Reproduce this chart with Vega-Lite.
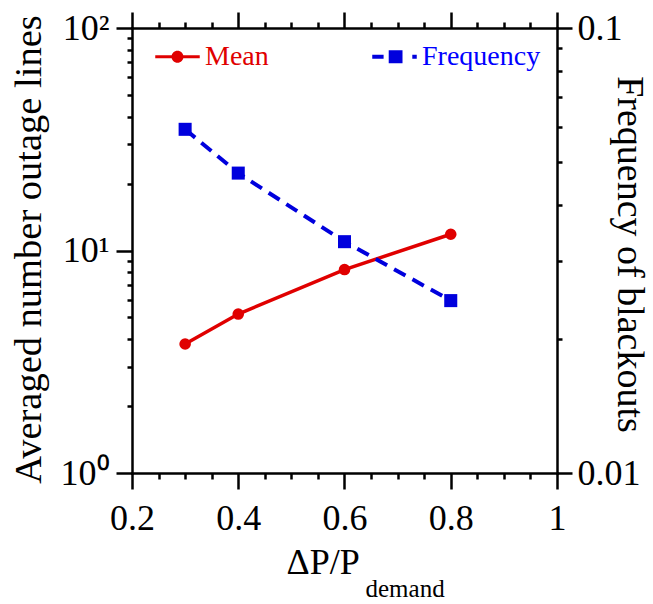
{
  "$schema": "https://vega.github.io/schema/vega-lite/v6.json",
  "width": 425,
  "height": 445,
  "autosize": "none",
  "padding": {"left": 132, "top": 28, "right": 96, "bottom": 131},
  "config": {
    "font": "Liberation Serif",
    "view": {"stroke": null},
    "axis": {
      "domainColor": "black", "tickColor": "black", "domainWidth": 2.5, "tickWidth": 2.5, "domainCap": "square",
      "labelColor": "black", "titleColor": "black", "labelFont": "Liberation Serif", "titleFont": "Liberation Serif",
      "labelFontSize": 36, "titleFontSize": 38, "titleFontWeight": "normal", "grid": false,
      "labelFlush": false, "labelOverlap": false
    },
    "legend": {"padding": 0}
  },
  "data": {"values": [
    {"x": 0.3, "series": "Mean", "value": 3.8},
    {"x": 0.4, "series": "Mean", "value": 5.18},
    {"x": 0.6, "series": "Mean", "value": 8.21},
    {"x": 0.8, "series": "Mean", "value": 11.83},
    {"x": 0.3, "series": "Frequency", "value": 0.0592},
    {"x": 0.4, "series": "Frequency", "value": 0.0472},
    {"x": 0.6, "series": "Frequency", "value": 0.0331},
    {"x": 0.8, "series": "Frequency", "value": 0.0244}
  ]},
  "resolve": {"scale": {"x": "independent", "y": "independent"}},
  "layer": [
    {
      "transform": [{"filter": "datum.series == 'Mean'"}],
      "mark": {"type": "line", "color": "#e00000", "strokeWidth": 3.5, "point": {"filled": true, "size": 135, "color": "#e00000"}},
      "encoding": {
        "x": {"field": "x", "type": "quantitative", "scale": {"domain": [0.2, 1], "nice": false, "zero": false},
          "axis": {"orient": "bottom", "values": [0.2, 0.4, 0.6, 0.8, 1], "format": ".1~f", "tickSize": 16, "labelPadding": 12,
            "labelFont": "Liberation Serif", "titleFont": "Liberation Serif", "labelFontSize": 36,
            "title": "ΔP/P", "titleFontSize": 36, "titleX": 154, "titleY": 100, "titleAlign": "left", "titleBaseline": "alphabetic", "titleAnchor": null}},
        "y": {"field": "value", "type": "quantitative", "scale": {"type": "log", "domain": [1, 100], "nice": false},
          "axis": {"orient": "left", "values": [1, 10, 100], "labelExpr": "datum.value < 5 ? '10⁰' : datum.value < 50 ? '10¹' : '10²'",
            "labelFont": "Liberation Serif", "titleFont": "Liberation Serif", "labelFontSize": 36, "titleFontSize": 38.5,
            "tickSize": 16, "labelPadding": 7, "title": "Averaged number outage lines", "titleX": -92, "titleY": 221, "titleAlign": "center", "titleBaseline": "alphabetic", "titleAngle": 270}}
      }
    },
    {
      "transform": [{"filter": "datum.series == 'Frequency'"}],
      "mark": {"type": "line", "color": "#0000dd", "strokeWidth": 4, "strokeDash": [13, 8], "point": {"filled": true, "shape": "square", "size": 170, "color": "#0000dd"}},
      "encoding": {
        "x": {"field": "x", "type": "quantitative", "scale": {"domain": [0.2, 1], "nice": false, "zero": false},
          "axis": {"orient": "top", "values": [0.2, 0.4, 0.6, 0.8, 1], "labels": false, "tickSize": 16, "title": null}},
        "y": {"field": "value", "type": "quantitative", "scale": {"type": "log", "domain": [0.01, 0.1], "nice": false},
          "axis": {"orient": "right", "values": [0.01, 0.1], "labelExpr": "datum.value < 0.05 ? '0.01' : '0.1'",
            "labelFont": "Liberation Serif", "titleFont": "Liberation Serif", "labelFontSize": 36, "titleFontSize": 38,
            "tickSize": 15, "labelPadding": 5, "title": "Frequency of blackouts", "titleX": 60, "titleY": 226, "titleAlign": "center", "titleBaseline": "alphabetic", "titleAngle": 90}}
      }
    },
    {
      "transform": [{"filter": "datum.series == 'Mean'"}],
      "mark": {"type": "point", "opacity": 0, "clip": true},
      "encoding": {
        "x": {"field": "x", "type": "quantitative", "scale": {"domain": [0.2, 1], "nice": false, "zero": false},
          "axis": {"orient": "bottom", "values": [0.25, 0.3, 0.35, 0.45, 0.5, 0.55, 0.65, 0.7, 0.75, 0.85, 0.9, 0.95], "labels": false, "domain": false, "tickSize": 6,
            "titleFont": "Liberation Serif",
            "title": "demand", "titleFontSize": 25, "titleX": 233, "titleY": 123, "titleAlign": "left", "titleBaseline": "alphabetic", "titleAnchor": null}},
        "y": {"field": "value", "type": "quantitative", "scale": {"type": "log", "domain": [1, 100], "nice": false},
          "axis": {"orient": "left", "values": [2, 3, 4, 5, 6, 7, 8, 9, 20, 30, 40, 50, 60, 70, 80, 90], "labels": false, "domain": false, "tickSize": 5, "title": null}}
      }
    },
    {
      "mark": {"type": "point", "opacity": 0, "filled": true, "clip": true},
      "encoding": {
        "x": {"field": "x", "type": "quantitative", "scale": {"domain": [0.2, 1], "nice": false, "zero": false},
          "axis": {"orient": "top", "values": [0.25, 0.3, 0.35, 0.45, 0.5, 0.55, 0.65, 0.7, 0.75, 0.85, 0.9, 0.95], "labels": false, "domain": false, "tickSize": 6, "title": null}},
        "y": {"field": "value", "type": "quantitative", "scale": {"type": "log", "domain": [0.01, 0.1], "nice": false},
          "axis": {"orient": "right", "values": [0.02, 0.03, 0.04, 0.05, 0.06, 0.07, 0.08, 0.09], "labels": false, "domain": false, "tickSize": 5, "title": null}},
        "color": {"field": "series", "type": "nominal", "scale": {"domain": ["Mean", "Frequency"], "range": ["#e00000", "#0000dd"]},
          "legend": {"orient": "none", "legendX": 23, "legendY": 6, "direction": "horizontal", "title": null, "symbolSize": 1980, "symbolStrokeWidth": 0, "symbolOpacity": 1,
            "labelFontSize": 28, "labelFont": "Liberation Serif", "labelOffset": 5, "columnPadding": 103, "padding": 0,
            "encode": {"labels": {"update": {"fill": {"signal": "datum.value === 'Mean' ? '#e00000' : '#0000ff'"}}}}}},
        "shape": {"field": "series", "type": "nominal", "scale": {"domain": ["Mean", "Frequency"], "range": [
            "M-1,-0.07H-0.26V0.07H-1Z M0.26,-0.07H1V0.07H0.26Z M0.27,0A0.27,0.27,0,1,1,-0.27,0A0.27,0.27,0,1,1,0.27,0Z",
            "M-1,-0.09H-0.49V0.09H-1Z M-0.26,-0.29H0.36V0.29H-0.26Z M0.8,-0.09H1V0.09H0.8Z"]},
          "legend": {"orient": "none", "legendX": 23, "legendY": 6, "direction": "horizontal", "title": null, "symbolSize": 1980, "symbolStrokeWidth": 0, "symbolOpacity": 1,
            "labelFontSize": 28, "labelFont": "Liberation Serif", "labelOffset": 5, "columnPadding": 103, "padding": 0,
            "encode": {"labels": {"update": {"fill": {"signal": "datum.value === 'Mean' ? '#e00000' : '#0000ff'"}}}}}}
      }
    }
  ]
}
